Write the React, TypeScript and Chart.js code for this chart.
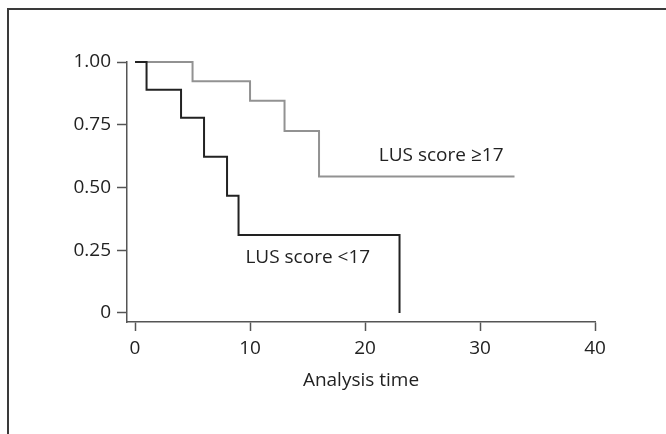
import React, { useEffect, useRef } from "react";
import { Chart, registerables } from "chart.js";
Chart.register(...registerables);

// Kaplan–Meier estimates
const timeLow = [0, 1, 4, 6, 8, 9, 23];
const survLow = [1, 0.889, 0.778, 0.622, 0.467, 0.311, 0];
const timeHigh = [0, 5, 10, 13, 16, 33];
const survHigh = [1, 0.923, 0.846, 0.725, 0.544, 0.544];

const xTicks = [0, 10, 20, 30, 40];
const xTickLabels = ["0", "10", "20", "30", "40"];
const yTicks = [0, 0.25, 0.5, 0.75, 1];
const yTickLabels = ["0", "0.25", "0.50", "0.75", "1.00"];

const seriesLabels = ["LUS score <17", "LUS score \u226517"];
const labelAtX = [9.6, 21.2];
const labelAtY = [0.219, 0.629];
const xTitle = "Analysis time";

const FONT = "'Open Sans', 'Noto Sans', sans-serif";
const TEXT = "#222";
const AXIS = "#555";
const FS = 19;

export default function App() {
  const ref = useRef<HTMLCanvasElement | null>(null);

  useEffect(() => {
    if (!ref.current) return;
    const labelPlugin = {
      id: "seriesLabels",
      afterDatasetsDraw(chart: any) {
        const { ctx, scales } = chart;
        ctx.save();
        ctx.font = `${FS}px ${FONT}`;
        ctx.fillStyle = TEXT;
        ctx.textAlign = "left";
        ctx.textBaseline = "middle";
        seriesLabels.forEach((t, i) => {
          ctx.fillText(
            t,
            scales.x.getPixelForValue(labelAtX[i]),
            scales.y.getPixelForValue(labelAtY[i])
          );
        });
        ctx.restore();
      },
    };

    const chart = new Chart(ref.current, {
      type: "line",
      data: {
        datasets: [
          {
            label: seriesLabels[0],
            data: timeLow.map((t, i) => ({ x: t, y: survLow[i] })),
            borderColor: "#222",
            borderWidth: 2,
            stepped: "before",
            pointRadius: 0,
            fill: false,
            clip: false,
          },
          {
            label: seriesLabels[1],
            data: timeHigh.map((t, i) => ({ x: t, y: survHigh[i] })),
            borderColor: "#929292",
            borderWidth: 2,
            stepped: "before",
            pointRadius: 0,
            fill: false,
            clip: false,
          },
        ],
      },
      options: {
        responsive: false,
        animation: false,
        events: [],
        layout: { padding: { top: 62, right: 71, left: 0, bottom: 0 } },
        plugins: {
          legend: { display: false },
          tooltip: { enabled: false },
        },
        scales: {
          x: {
            type: "linear",
            min: -0.7,
            max: 40,
            afterBuildTicks: (s: any) => {
              s.ticks = xTicks.map((v) => ({ value: v }));
            },
            afterFit: (s: any) => {
              s.height = 112;
            },
            ticks: {
              autoSkip: false,
              maxRotation: 0,
              padding: 6,
              color: TEXT,
              font: { family: FONT, size: FS },
              callback: (v: any) => xTickLabels[xTicks.indexOf(Number(v))],
            },
            grid: {
              display: true,
              drawOnChartArea: false,
              drawTicks: true,
              tickLength: 9,
              tickWidth: 1.5,
              color: AXIS,
            },
            border: { display: true, color: AXIS, width: 1.5 },
            title: {
              display: true,
              text: xTitle,
              color: TEXT,
              font: { family: FONT, size: FS },
              padding: { top: 0, bottom: 42 },
            },
          },
          y: {
            type: "linear",
            min: -0.036,
            max: 1,
            afterBuildTicks: (s: any) => {
              s.ticks = yTicks.map((v) => ({ value: v }));
            },
            afterFit: (s: any) => {
              s.width = 127;
            },
            ticks: {
              autoSkip: false,
              padding: 6,
              color: TEXT,
              font: { family: FONT, size: FS },
              callback: (v: any) => yTickLabels[yTicks.indexOf(Number(v))],
            },
            grid: {
              display: true,
              drawOnChartArea: false,
              drawTicks: true,
              tickLength: 10,
              tickWidth: 1.5,
              color: AXIS,
            },
            border: { display: true, color: AXIS, width: 1.5 },
          },
        },
      },
      plugins: [labelPlugin],
    } as any);
    return () => chart.destroy();
  }, []);

  return (
    <div
      style={{
        position: "fixed",
        left: 0,
        top: 0,
        width: 666,
        height: 434,
        background: "#fff",
        overflow: "hidden",
      }}
    >
      <div
        style={{
          position: "absolute",
          left: 7,
          top: 8,
          right: 0,
          bottom: 0,
          borderTop: "2px solid #3a3a3a",
          borderLeft: "2px solid #3a3a3a",
        }}
      />
      <canvas
        ref={ref}
        width={666}
        height={434}
        style={{ position: "absolute", left: 0, top: 0, width: 666, height: 434 }}
      />
    </div>
  );
}
